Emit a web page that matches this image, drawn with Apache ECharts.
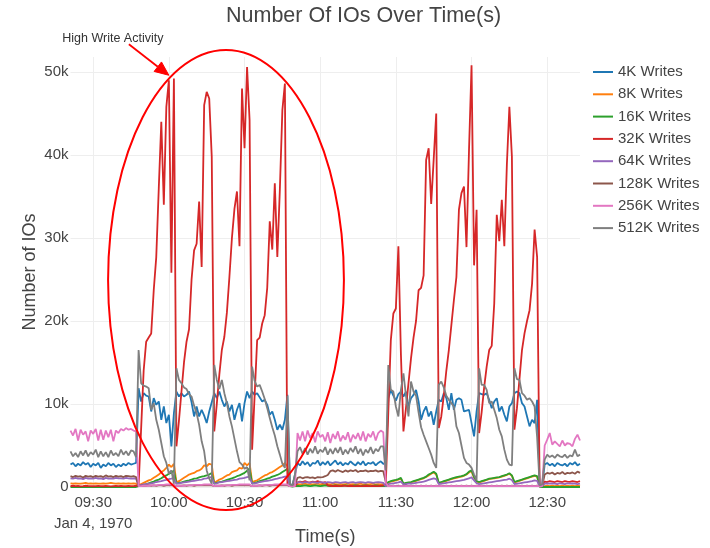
<!DOCTYPE html>
<html>
<head>
<meta charset="utf-8">
<script src="https://cdn.jsdelivr.net/npm/echarts@6/dist/echarts.min.js"></script>
<style>
html,body{margin:0;padding:0;background:#fff;}
#chart{width:710px;height:548px;}
</style>
</head>
<body>
<div id="chart"></div>
<script>
// ---------- DATA ----------
// one sample per minute, 09:21 .. 12:43 (Jan 4, 1970)
const startMinute = 9 * 60 + 21;
const endMinute = 12 * 60 + 43;
const times = [];
for (let m = startMinute; m <= endMinute; m++) {
  times.push(String(Math.floor(m / 60)).padStart(2, '0') + ':' + String(m % 60).padStart(2, '0'));
}

const xTickLabels = ['09:30', '10:00', '10:30', '11:00', '11:30', '12:00', '12:30'];
const dateLabel = 'Jan 4, 1970';
const seriesNames = ['4K Writes', '8K Writes', '16K Writes', '32K Writes', '64K Writes', '128K Writes', '256K Writes', '512K Writes'];

const w4k = [
2700,2900,2500,2800,2600,3000,2700,2900,2400,2800,
2600,2900,2300,2700,2500,2900,2600,2800,2400,2700,
2500,2800,2600,2900,2700,2800,2900,11900,10300,11300,
11000,10900,9100,10700,9900,10300,8100,9700,7700,8700,
4900,8900,11500,10900,11300,10900,11100,11500,10200,8500,
9700,8500,9300,8600,7700,9100,10200,11300,10700,11500,
10500,9700,10300,9100,9900,8100,9300,10100,7900,10100,
11500,10700,11500,11100,11300,10800,10300,10500,9900,8700,
9100,8100,6900,7500,6900,8100,11100,400,200,1500,
2900,2600,3100,2700,3000,2500,2900,2800,3200,2600,
3000,2700,3100,2600,2900,3200,2700,3000,2600,2900,
2700,3100,2800,2600,3000,2700,3100,2600,2900,2800,
3000,2600,2900,3100,2800,2800,10700,11700,11000,10400,
11200,11500,10900,11500,9700,10700,11100,11700,10300,8100,
9100,9700,8500,9100,7500,9100,10500,10300,11300,10700,
9300,11300,9300,10500,10700,10500,9100,9200,9300,7700,
6100,9100,11300,11200,11100,11300,10500,9500,10300,10700,
9100,9700,8700,7900,9700,10100,11300,11500,11300,10100,
9700,8500,7300,8100,7700,10500,200,300,2700,2900,
2600,2800,2500,2900,2700,2600,2800,2500,2900,2700,
3000,2600,2800];

const w8k = [
450,400,450,400,400,450,500,400,450,400,
450,400,400,450,400,450,500,450,400,450,
400,450,400,450,400,450,400,200,350,500,
650,800,900,1100,1300,1500,1800,2000,2300,2700,
2400,2800,600,700,900,1100,1300,1500,1600,1700,
1900,2000,2200,2600,2500,2800,2700,500,700,900,
1000,1200,1400,1500,1800,1900,2000,2300,2200,2900,
2600,2900,600,700,800,1000,1200,1400,1500,1700,
1800,2000,2200,2400,2600,2900,2500,100,100,300,
350,300,350,400,300,350,300,350,400,300,
350,300,350,300,400,350,300,350,300,350,
400,300,350,300,350,400,300,350,300,350,
400,300,350,300,350,100,550,650,700,800,
900,1000,350,450,500,550,650,750,850,950,
1050,1200,1400,1600,1750,1500,450,550,650,750,
850,950,1050,1100,1200,1250,1350,1500,1750,1900,
1100,650,550,650,750,850,950,1000,1050,1100,
1150,1250,1350,1450,1600,1350,550,650,750,850,
950,1050,1150,1250,1350,1250,50,100,100,150,
100,150,100,150,100,150,100,150,100,150,
100,150,100];

const w16k = [
0,0,0,0,0,0,0,0,0,0,
0,0,0,0,0,0,0,0,0,0,
0,0,0,0,0,0,0,100,150,250,
350,450,550,650,800,900,1050,1250,1400,1600,
1700,2000,400,500,550,650,750,800,900,1000,
1050,1150,1250,1300,1400,1500,1700,400,500,600,
650,750,850,950,1050,1150,1300,1400,1550,1700,
1950,2250,400,500,600,700,800,900,1000,1100,
1250,1350,1450,1600,1800,2000,2200,100,50,100,
150,100,150,200,150,100,150,200,150,100,
150,200,150,100,150,200,150,100,150,200,
150,100,150,200,150,100,150,200,150,100,
150,200,150,100,150,100,600,700,800,850,
950,1100,400,500,550,600,700,800,900,1000,
1100,1250,1500,1650,1850,1600,500,600,700,800,
900,1000,1100,1200,1250,1300,1400,1550,1850,2000,
1200,700,600,700,800,900,1000,1050,1100,1150,
1200,1300,1400,1500,1650,1400,600,700,800,900,
1000,1100,1200,1300,1400,1300,50,0,0,0,
0,0,0,0,0,0,0,0,0,0,
0,0,0];

const w32k = [
100,150,100,120,80,100,150,120,100,90,
110,130,100,90,120,100,80,110,140,100,
120,100,90,130,110,100,150,200,7000,14000,
17500,18000,18500,23700,27700,36000,44000,34000,45800,49000,
25800,49200,4900,8000,11500,15000,17500,19000,25000,28500,
29300,34400,26500,46000,47600,46800,39800,6700,10000,13500,
16500,18100,21000,25300,30000,33500,35600,29000,48000,40800,
50600,44200,4500,11000,17700,18000,19700,20700,24000,32000,
28600,36600,27700,35800,45400,48600,300,200,100,100,
550,650,600,700,600,550,650,600,700,600,
500,600,200,150,100,150,120,100,150,130,
100,150,120,100,140,110,100,150,120,100,
130,110,100,150,200,300,9000,17700,20900,21500,
29000,16000,6700,9500,12500,15500,18000,20000,23700,24000,
25500,39400,40800,34100,39500,45000,7100,8500,11000,14000,
16500,19500,22500,25300,33400,35400,36200,28900,40600,50800,
26700,33400,6500,9000,12000,14500,16500,17000,22100,32800,
29600,34600,29000,38800,45800,39800,6900,9500,13000,16500,
18500,20000,21300,24500,31000,27700,200,300,650,600,
700,650,600,700,650,600,700,650,620,700,
650,600,700];

const w64k = [
1050,1000,1100,1000,1050,950,1100,1000,1050,1000,
1100,1000,1050,950,1100,1000,1050,1000,1100,1050,
1050,1000,1100,1050,1000,1050,1000,150,250,300,
350,400,450,500,600,650,700,800,850,950,
1000,1100,400,450,500,550,600,650,700,750,
800,850,900,1000,1050,1150,1200,400,450,550,
600,650,700,750,800,850,900,1000,1050,1100,
1200,1250,400,450,500,600,650,700,750,800,
850,950,1000,1100,1150,1250,1300,100,100,400,
550,600,500,600,550,500,600,550,500,600,
550,500,600,550,500,600,550,500,550,600,
500,550,600,500,550,600,550,500,600,550,
500,550,600,550,500,100,350,400,450,500,
550,650,300,350,400,400,450,500,550,600,
650,750,850,950,1050,950,350,400,450,500,
550,600,650,700,750,800,850,950,1050,1150,
800,450,350,400,450,500,550,600,650,700,
750,800,850,900,1000,850,350,400,450,500,
550,600,650,700,800,750,50,100,400,450,
400,450,400,350,450,400,350,450,400,450,
400,350,400];

const w128k = [
1300,1200,1350,1250,1300,1150,1350,1250,1300,1200,
1350,1250,1300,1200,1400,1250,1300,1200,1350,1250,
1300,1200,1350,1300,1250,1300,1200,100,150,150,
150,200,150,200,150,200,200,150,200,200,
200,200,100,150,150,200,150,200,200,150,
200,200,200,200,200,200,200,100,150,150,
200,150,200,200,150,200,200,200,200,200,
200,200,100,150,150,200,150,200,200,150,
200,200,200,200,200,200,200,100,100,300,
1100,1200,1050,1150,1200,1100,1150,1050,1200,1150,
1200,1300,1450,1900,2000,1850,2050,1900,1800,2000,
1850,2000,1900,2050,1800,1950,1900,2000,1850,1950,
1900,2000,1850,1950,1900,600,100,100,150,100,
150,100,100,150,100,150,100,150,100,150,
100,150,100,150,100,150,100,150,100,150,
100,150,100,150,100,150,100,150,100,150,
100,150,100,150,100,150,100,150,100,150,
100,150,100,150,100,150,100,150,100,150,
100,150,100,150,100,150,100,100,1500,1700,
1600,1750,1500,1700,1600,1800,1550,1700,1650,1750,
1600,1850,1700];

const w256k = [
6800,6200,7000,5600,6900,6300,6700,5500,6800,6400,
7000,5600,6900,5700,6800,6000,6900,5500,6800,6500,
7000,6800,7100,6900,7000,6800,6700,100,100,150,
150,150,200,200,200,250,250,250,300,300,
300,300,100,150,150,150,200,200,200,250,
250,250,250,300,300,300,300,100,150,150,
150,200,200,200,250,250,250,300,300,300,
300,300,100,150,150,200,200,200,250,250,
250,300,300,300,300,300,300,100,100,100,
6500,5600,6700,5500,6800,5900,6500,5400,6700,6000,
6300,5500,6600,5300,6400,5800,6700,5500,6200,5700,
6600,5400,6300,5800,6500,5600,6700,5500,6400,6000,
6700,5600,6500,6800,6600,500,100,100,120,100,
100,120,100,120,100,120,100,120,100,120,
100,120,100,120,100,120,100,120,100,120,
100,120,100,120,100,120,100,120,100,120,
100,120,100,120,100,120,100,120,100,120,
100,120,100,120,100,120,100,120,100,120,
100,120,100,120,100,120,100,100,5000,5700,
6500,5100,5500,5200,4900,5600,5000,5300,5200,4900,
5800,6300,5600];

const w512k = [
4300,3700,4100,3600,4300,3800,4400,3700,4200,3900,
4500,3600,4300,3700,4200,3600,4400,3800,4100,3700,
4500,3900,4300,3800,4400,4300,3600,16500,12500,12200,
12100,11900,9300,10100,8100,6900,5300,3700,2900,1600,
2000,400,14300,12900,12500,12000,11800,11200,10900,9800,
8900,7500,5500,4300,2000,1000,400,14700,12900,11800,
12900,11300,10100,8500,7300,5800,4300,3000,2700,2200,
2400,800,14500,12800,12100,12300,11500,10600,9500,8300,
7200,6200,4900,3900,2800,2300,11000,300,200,1500,
4300,4800,4000,4700,3900,4600,4100,4900,4000,4500,
4200,4800,3900,4600,4000,4700,4100,4800,3900,4500,
4000,4700,4200,4900,4000,4600,3800,4500,4100,4800,
4000,4600,4300,4900,4900,2000,14700,11700,11500,9700,
8500,11700,13700,11000,8500,12700,11500,11000,9000,7200,
6300,5500,4700,3900,2900,2300,12300,12700,12000,11000,
10500,10100,9700,7300,6500,5000,3500,2900,2700,2300,
1500,800,14300,12300,12300,11700,10100,10300,9300,8300,
6900,6100,4500,3300,2700,2600,14300,13000,12900,11300,
11000,10500,10700,10300,9700,6000,200,300,3300,3900,
3600,3800,3500,3900,3700,3600,3900,3500,3800,3700,
4500,3700,3900];

// annotation, in data units (minutes since midnight, IO counts)
const highlightEllipse = { x0: 575.9, x1: 669.4, y0: -2770, y1: 52650 };
const annotationText = 'High Write Activity';
const annotationPoint = { minute: 600, value: 49600 };

// ---------- STYLE ----------
const FONT = '"Liberation Sans", Arial, Helvetica, sans-serif';
const TEXT = '#444';
const colors = ['#1f77b4', '#ff7f0e', '#2ca02c', '#d62728', '#9467bd', '#8c564b', '#e377c2', '#7f7f7f'];
const seriesValues = [w4k, w8k, w16k, w32k, w64k, w128k, w256k, w512k];

const isTick = (idx, val) => xTickLabels.indexOf(val) >= 0;

const chart = echarts.init(document.getElementById('chart'), null, { renderer: 'canvas' });

const option = {
  animation: false,
  backgroundColor: '#ffffff',
  color: colors,
  title: {
    text: 'Number Of IOs Over Time(s)',
    left: 226, top: 5.5, padding: 0,
    textStyle: { fontFamily: FONT, fontSize: 21.5, fontWeight: 'normal', color: TEXT }
  },
  legend: {
    orient: 'vertical', left: 593, top: 64, padding: 0,
    itemGap: 6.3, itemWidth: 20, itemHeight: 2, icon: 'rect',
    textStyle: { fontFamily: FONT, fontSize: 15, color: TEXT, lineHeight: 16 },
    data: seriesNames
  },
  grid: { left: 70.5, right: 130, top: 57, bottom: 61, containLabel: false, outerBoundsMode: 'none' },
  xAxis: {
    type: 'category', data: times, boundaryGap: false,
    axisLine: { show: false }, axisTick: { show: false },
    axisLabel: {
      interval: isTick,
      formatter: (v) => v === xTickLabels[0] ? v + '\n' + dateLabel : v,
      fontFamily: FONT, fontSize: 15, color: TEXT, lineHeight: 21, margin: 5.5
    },
    splitLine: { show: true, interval: isTick, lineStyle: { color: '#eeeeee', width: 1 } },
    name: 'Time(s)', nameLocation: 'middle', nameGap: 41.5, nameMoveOverlap: false,
    nameTextStyle: { fontFamily: FONT, fontSize: 18, color: TEXT }
  },
  yAxis: {
    type: 'value', min: 0, max: 51800, interval: 10000,
    axisLine: { show: false }, axisTick: { show: false },
    axisLabel: {
      showMaxLabel: false,
      formatter: (v) => v === 0 ? '0' : (v / 1000) + 'k',
      fontFamily: FONT, fontSize: 15, color: TEXT, margin: 2
    },
    splitLine: { show: true, showMaxLine: false, lineStyle: { color: '#eeeeee', width: 1 } },
    name: 'Number of IOs', nameLocation: 'middle', nameGap: 31, nameMoveOverlap: false,
    nameTextStyle: { fontFamily: FONT, fontSize: 18, color: TEXT }
  },
  series: seriesNames.map((name, k) => ({
    name: name, type: 'line', data: seriesValues[k],
    symbol: 'none', showSymbol: false, sampling: null, clip: false,
    lineStyle: { width: 1.8, color: colors[k] },
    itemStyle: { color: colors[k] },
    emphasis: { disabled: true }
  }))
};
chart.setOption(option);

// place annotation through the chart's own coordinate system
function toPx(minute, value) {
  const idx = minute - startMinute;
  const i0 = Math.floor(idx), i1 = Math.ceil(idx);
  const p0 = chart.convertToPixel({ gridIndex: 0 }, [i0, value]);
  if (i0 === i1) return p0;
  const p1 = chart.convertToPixel({ gridIndex: 0 }, [i1, value]);
  const f = idx - i0;
  return [p0[0] + (p1[0] - p0[0]) * f, p0[1]];
}
const e0 = toPx(highlightEllipse.x0, highlightEllipse.y0);
const e1 = toPx(highlightEllipse.x1, highlightEllipse.y1);
const tip = toPx(annotationPoint.minute, annotationPoint.value);
const tail = [tip[0] - 40, tip[1] - 31];
const dx = tip[0] - tail[0], dy = tip[1] - tail[1];
const len = Math.sqrt(dx * dx + dy * dy);
const ux = dx / len, uy = dy / len;
const headLen = 14, headHalf = 6;
const base = [tip[0] - ux * headLen, tip[1] - uy * headLen];
const nx = -uy, ny = ux;

chart.setOption({
  graphic: [
    {
      type: 'ellipse', silent: true, z: 100,
      shape: { cx: (e0[0] + e1[0]) / 2, cy: (e0[1] + e1[1]) / 2, rx: Math.abs(e1[0] - e0[0]) / 2, ry: Math.abs(e1[1] - e0[1]) / 2 },
      style: { fill: 'none', stroke: '#ff0000', lineWidth: 2 }
    },
    {
      type: 'line', silent: true, z: 100,
      shape: { x1: tail[0], y1: tail[1], x2: base[0], y2: base[1] },
      style: { stroke: '#ff0000', lineWidth: 1.8 }
    },
    {
      type: 'polygon', silent: true, z: 100,
      shape: { points: [[tip[0], tip[1]], [base[0] + nx * headHalf, base[1] + ny * headHalf], [base[0] - nx * headHalf, base[1] - ny * headHalf]] },
      style: { fill: '#ff0000', stroke: '#ff0000', lineWidth: 1 }
    },
    {
      type: 'text', silent: true, z: 100,
      x: tip[0] - 56, y: tip[1] - 37,
      style: {
        text: annotationText, fill: '#333', fontFamily: FONT, fontSize: 12.5,
        align: 'center', verticalAlign: 'middle', textAlign: 'center', textVerticalAlign: 'middle'
      }
    }
  ]
});
</script>
</body>
</html>
